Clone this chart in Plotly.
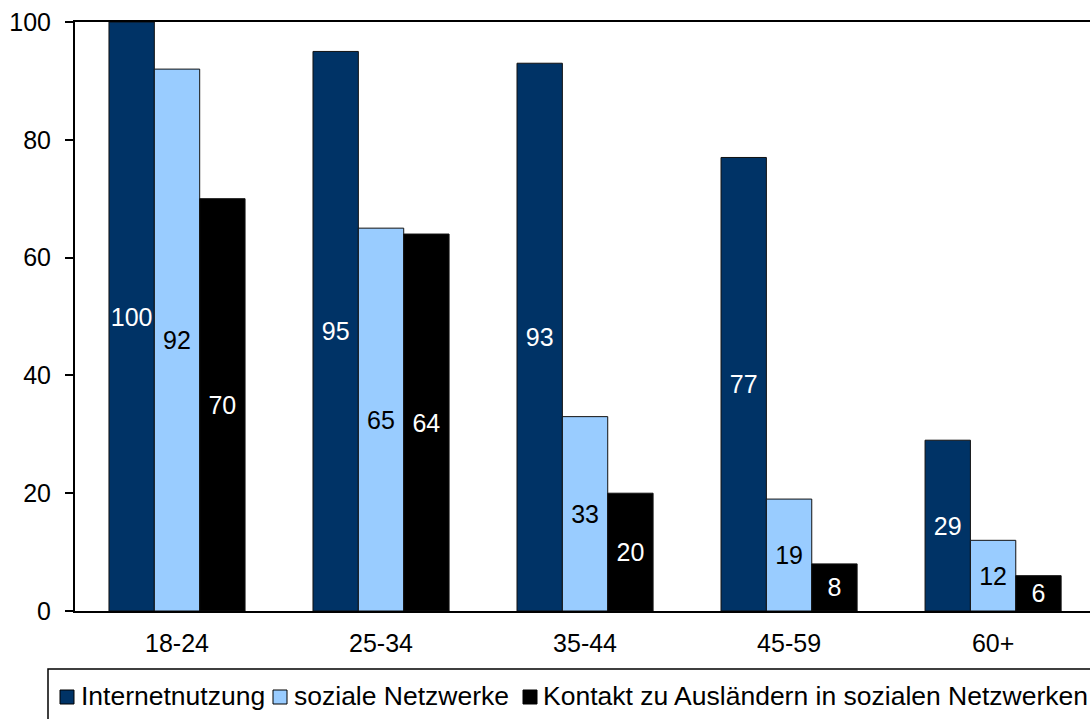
import plotly.graph_objects as go

# Altersgruppen und Anteile (%)
age_groups = ["18-24", "25-34", "35-44", "45-59", "60+"]
internet = [100, 95, 93, 77, 29]
social = [92, 65, 33, 19, 12]
contact = [70, 64, 20, 8, 6]

series_names = [
    "Internetnutzung",
    "soziale Netzwerke",
    "Kontakt zu Ausländern in sozialen Netzwerken",
]
series_values = [internet, social, contact]
fill_colors = ["#003366", "#99CCFF", "#000000"]
label_colors = ["#FFFFFF", "#000000", "#FFFFFF"]

FONT = "Arial, Liberation Sans, sans-serif"
W, H = 1090, 719
ML, MR, MT, MB = 75, 0, 22, 108
plot_w = W - ML - MR
plot_h = H - MT - MB

fig = go.Figure()
for name, vals, fc, lc in zip(series_names, series_values, fill_colors, label_colors):
    fig.add_trace(go.Bar(
        x=age_groups,
        y=vals,
        name=name,
        marker=dict(color=fc, line=dict(color="#111111", width=1)),
        text=[str(v) for v in vals],
        textposition="inside",
        insidetextanchor="middle",
        constraintext="none",
        textangle=0,
        textfont=dict(family=FONT, size=25, color=lc),
        showlegend=False,
    ))

# pixel helpers for the hand-drawn legend below the plot
def px_x(p):
    return (p - ML) / plot_w

def px_y(p):
    return (H - MB - p) / plot_h

shapes = [
    dict(type="rect", xref="paper", yref="paper",
         x0=px_x(48), x1=px_x(1100), y0=px_y(669), y1=px_y(730),
         line=dict(color="#000000", width=1.5), fillcolor="rgba(0,0,0,0)"),
]
annotations = []
legend_items = [(60, 79), (273, 292), (523, 541)]
for (sx, tx), name, fc in zip(legend_items, series_names, fill_colors):
    shapes.append(dict(type="rect", xref="paper", yref="paper",
                       x0=px_x(sx), x1=px_x(sx + 14), y0=px_y(704), y1=px_y(690),
                       line=dict(color="#000000", width=1), fillcolor=fc))
    annotations.append(dict(xref="paper", yref="paper", x=px_x(tx), y=px_y(696),
                            text=name, showarrow=False, xanchor="left", yanchor="middle",
                            font=dict(family=FONT, size=26.5, color="#000000")))

fig.update_layout(
    width=W, height=H,
    margin=dict(l=ML, r=MR, t=MT, b=MB, pad=0),
    paper_bgcolor="white", plot_bgcolor="white",
    barmode="group", bargap=0.333, bargroupgap=0,
    font=dict(family=FONT, size=25, color="#000000"),
    shapes=shapes, annotations=annotations,
    xaxis=dict(
        range=[-0.5, 4.475],
        showline=True, linecolor="#000000", linewidth=2, mirror=True,
        ticks="", showgrid=False, zeroline=False,
        tickfont=dict(family=FONT, size=25, color="#000000"),
        ticklabelstandoff=9,
    ),
    yaxis=dict(
        range=[0, 100], dtick=20,
        showline=True, linecolor="#000000", linewidth=2,
        ticks="outside", ticklen=8, tickcolor="#000000", tickwidth=1.5,
        showgrid=False, zeroline=False,
        tickfont=dict(family=FONT, size=25, color="#000000"),
        ticklabelstandoff=9,
    ),
)

fig.write_html("out.html")
